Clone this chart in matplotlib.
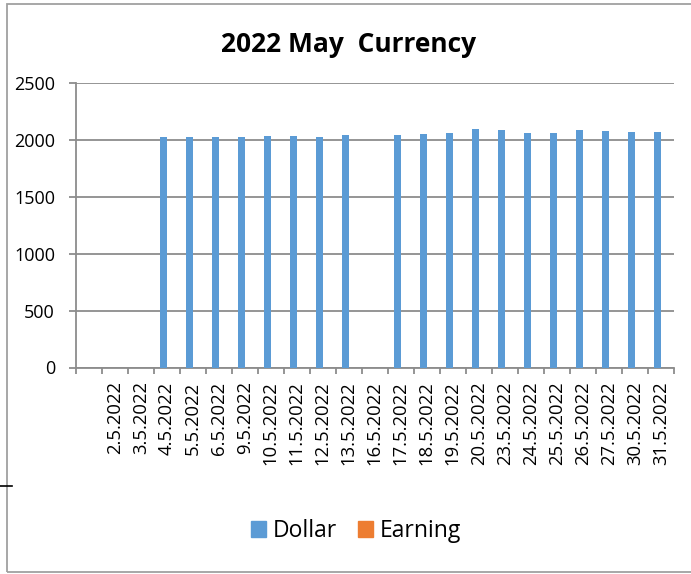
import matplotlib
matplotlib.use("Agg")
import matplotlib.pyplot as plt
from matplotlib.patches import Patch, Rectangle
from matplotlib.lines import Line2D
import numpy as np

plt.rcParams['font.family'] = ['Open Sans', 'DejaVu Sans']

dates = ["", "2.5.2022", "3.5.2022", "4.5.2022", "5.5.2022", "6.5.2022", "9.5.2022",
         "10.5.2022", "11.5.2022", "12.5.2022", "13.5.2022", "16.5.2022", "17.5.2022",
         "18.5.2022", "19.5.2022", "20.5.2022", "23.5.2022", "24.5.2022", "25.5.2022",
         "26.5.2022", "27.5.2022", "30.5.2022", "31.5.2022"]
dollar = [0, 0, 0, 2030, 2030, 2031, 2030, 2035, 2035, 2032, 2044, 0, 2044,
          2053, 2067, 2094, 2088, 2061, 2067, 2088, 2079, 2070, 2070]
earning = [0] * len(dates)
yticks = [0, 500, 1000, 1500, 2000, 2500]

blue = "#5B9BD5"
orange = "#ED7D31"
grid = "#8C8C8C"

W, H = 691, 574
fig = plt.figure(figsize=(W / 100, H / 100), dpi=100)
ax = fig.add_axes([75.8 / W, 1 - 367.5 / H, (673.8 - 75.8) / W, (367.5 - 83.3) / H])

x = np.arange(len(dates))
bw = 0.27
ax.bar(x - bw / 2, dollar, width=bw, color=blue, zorder=3)
ax.bar(x + bw / 2, earning, width=bw, color=orange, zorder=3)

ax.set_xlim(-0.5, len(dates) - 0.5)
ax.set_ylim(0, 2500)
ax.set_yticks(yticks)
ax.set_yticklabels([str(v) for v in yticks], fontsize=13)
ax.yaxis.grid(True, color=grid, linewidth=1.3, zorder=0)
ax.tick_params(axis='y', length=5, color=grid, width=1.3, pad=10)

ax.set_xticks(np.arange(len(dates) + 1) - 0.5)
ax.set_xticklabels([])
ax.tick_params(axis='x', which='major', length=4, color=grid, width=1.3)
ax.set_xticks(x, minor=True)
ax.set_xticklabels(dates, minor=True, rotation=90, fontsize=13.3, va='top', ha='center')
ax.tick_params(axis='x', which='minor', length=0, pad=10)

for s in ['top', 'right']:
    ax.spines[s].set_visible(False)
for s in ['left', 'bottom']:
    ax.spines[s].set_color(grid)
    ax.spines[s].set_linewidth(1.3)

fig.text(349 / W, 1 - 45 / H, "2022 May  Currency", fontsize=19, fontweight='bold',
         ha='center', va='center')

handles = [Patch(color=blue, label="Dollar"), Patch(color=orange, label="Earning")]
fig.legend(handles=handles, loc='center', bbox_to_anchor=(356 / W, 1 - 531 / H), ncol=2,
           frameon=False, fontsize=16.5, handlelength=0.65, handleheight=0.65,
           handletextpad=0.28, columnspacing=0.95)

fig.patches.append(Rectangle((6.5 / W, 1 - 571.5 / H), (W + 10) / W, (571.5 - 3.5) / H,
                             transform=fig.transFigure, fill=False, edgecolor="#A0A0A0",
                             linewidth=1.3))
fig.lines.append(Line2D([0, 12 / W], [1 - 486 / H, 1 - 486 / H], transform=fig.transFigure,
                        color='black', linewidth=1.2))

fig.savefig("out.png", dpi=100)
